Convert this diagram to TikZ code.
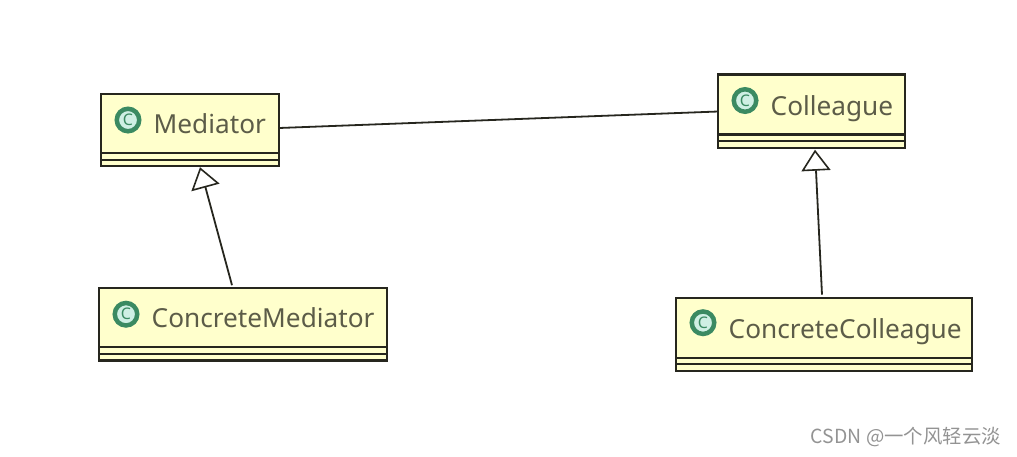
\documentclass[tikz,border=0pt]{standalone}
\usepackage{fontspec}
\setmainfont{Noto Sans}
\newfontfamily\cjk{Noto Sans CJK SC}
\usepackage{xcolor}
\usetikzlibrary{arrows.meta,positioning}
\definecolor{classfill}{HTML}{FFFFCC}
\definecolor{classline}{HTML}{26261E}
\definecolor{classtext}{HTML}{5C5C48}
\definecolor{icongreen}{HTML}{3B8A62}
\definecolor{iconpale}{HTML}{CFEFE4}
\tikzset{
    classbox/.style={rectangle,draw=classline,line width=2.2pt,fill=classfill,outer sep=0pt,inner sep=0pt},
    slotbox/.style={classbox,minimum height=6.6pt},
    classicon/.style={circle,draw=icongreen,line width=4.5pt,fill=iconpale,minimum size=22.5pt,inner sep=0pt,
        text=icongreen,font=\bfseries\fontsize{16}{16}\selectfont},
    classname/.style={inner sep=0pt,text height=18pt,text depth=6pt,text=classtext,font=\fontsize{26.2}{30}\selectfont},
    assoc/.style={line width=1.8pt,draw=classline},
    extends/.style={line width=1.8pt,draw=classline,-{Triangle[open,fill=white,length=21pt,width=29pt,line width=1.6pt]}},
    mark text/.style={inner sep=0pt,text=gray!85,font=\cjk\fontsize{19.4}{22}\selectfont}
}
\begin{document}
\begin{tikzpicture}[x=1pt,y=1pt]
    \useasboundingbox (0,0) rectangle (1017,-456);

    \node[classbox,minimum width=178pt,minimum height=59pt] (mediator) at (190,-123.5) {};
    \node[slotbox,minimum width=178pt,below=0pt of mediator] (medslota) {};
    \node[slotbox,minimum width=178pt,below=0pt of medslota] (medslotb) {};
    \node[classicon] (medicon) at ([xshift=27pt,yshift=-26pt]mediator.north west) {C};
    \node[classname,right=12pt of medicon,yshift=-7pt] (medname) {Mediator};

    \node[classbox,minimum width=187pt,minimum height=60pt,right=439pt of mediator,yshift=19pt] (colleague) {};
    \node[slotbox,minimum width=187pt,below=0pt of colleague] (colslota) {};
    \node[slotbox,minimum width=187pt,below=0pt of colslota] (colslotb) {};
    \node[classicon] (colicon) at ([xshift=27pt,yshift=-26pt]colleague.north west) {C};
    \node[classname,right=12pt of colicon,yshift=-9pt] (colname) {Colleague};

    \node[classbox,minimum width=288pt,minimum height=59pt,below=122pt of medslotb,xshift=53pt] (concmed) {};
    \node[slotbox,minimum width=288pt,below=0pt of concmed] (cmedslota) {};
    \node[slotbox,minimum width=288pt,below=0pt of cmedslota] (cmedslotb) {};
    \node[classicon] (cmedicon) at ([xshift=27pt,yshift=-26pt]concmed.north west) {C};
    \node[classname,right=12pt of cmedicon,yshift=-7pt] (cmedname) {ConcreteMediator};

    \node[classbox,minimum width=296pt,minimum height=60pt,below=150pt of colslotb,xshift=12.5pt] (conccol) {};
    \node[slotbox,minimum width=296pt,below=0pt of conccol] (ccolslota) {};
    \node[slotbox,minimum width=296pt,below=0pt of ccolslota] (ccolslotb) {};
    \node[classicon] (ccolicon) at ([xshift=27pt,yshift=-25pt]conccol.north west) {C};
    \node[classname,right=12pt of ccolicon,yshift=-10pt] (ccolname) {ConcreteColleague};

    \node[mark text,anchor=east] (csdnmark) at (1001,-437) {CSDN @一个风轻云淡};

    \draw[assoc] ([yshift=-4.5pt]mediator.east) -- ([yshift=-7pt]colleague.west);
    \draw[extends] ([xshift=-11pt,yshift=3pt]concmed.north) -- ([xshift=10pt,yshift=-1pt]medslotb.south);
    \draw[extends] ([xshift=-2pt,yshift=3pt]conccol.north) -- ([xshift=3.5pt,yshift=-2pt]colslotb.south);
\end{tikzpicture}
\end{document}
